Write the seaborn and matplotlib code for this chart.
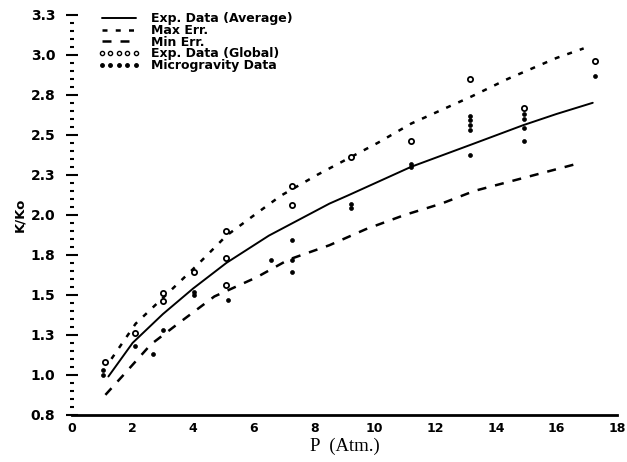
import matplotlib
matplotlib.use('Agg')
import matplotlib.pyplot as plt
import pandas as pd
import seaborn as sns
from matplotlib.lines import Line2D
from matplotlib.ticker import MultipleLocator

# Curves (P in atm, K/Ko)
avg_p = [1.2, 2.0, 3.0, 4.0, 5.1, 6.5, 7.5, 8.5, 9.1, 11.2, 13.2, 14.9, 16.0, 17.2]
avg_k = [0.99, 1.20, 1.38, 1.54, 1.70, 1.87, 1.97, 2.07, 2.12, 2.30, 2.44, 2.56, 2.63, 2.70]

max_p = [1.3, 2.1, 3.05, 4.1, 5.1, 6.1, 6.9, 8.1, 9.2, 10.1, 11.2, 13.2, 14.4, 16.0, 16.9]
max_k = [1.10, 1.32, 1.49, 1.68, 1.87, 2.01, 2.12, 2.25, 2.36, 2.45, 2.57, 2.74, 2.85, 2.98, 3.04]

min_p = [1.1, 1.7, 2.6, 3.5, 4.7, 6.1, 7.15, 8.5, 9.7, 11.0, 12.2, 13.3, 14.7, 16.7]
min_k = [0.875, 1.00, 1.19, 1.32, 1.49, 1.61, 1.72, 1.81, 1.91, 2.00, 2.07, 2.15, 2.22, 2.32]

# Experimental points
glob_p = [1.08, 2.07, 3.0, 3.0, 4.03, 5.07, 5.07, 5.07, 7.26, 7.26, 9.22, 11.2, 13.15, 14.94, 17.26]
glob_k = [1.08, 1.26, 1.51, 1.46, 1.64, 1.73, 1.56, 1.90, 2.18, 2.06, 2.36, 2.46, 2.85, 2.67, 2.96]

micro_p = [1.03, 1.03, 2.07, 2.67, 3.0, 4.03, 4.03, 5.16, 6.58, 7.26, 7.26, 7.26, 9.22, 9.22,
           11.2, 11.2, 13.15, 13.15, 13.15, 13.15, 13.15, 14.94, 14.94, 14.94, 14.94, 17.26]
micro_k = [1.00, 1.03, 1.18, 1.13, 1.28, 1.52, 1.50, 1.47, 1.72, 1.84, 1.72, 1.64, 2.07, 2.04,
           2.32, 2.30, 2.62, 2.59, 2.56, 2.53, 2.375, 2.63, 2.60, 2.54, 2.46, 2.87]

y_ticks = [0.75, 1.0, 1.25, 1.5, 1.75, 2.0, 2.25, 2.5, 2.75, 3.0, 3.25]
y_tick_labels = ['0.8', '1.0', '1.3', '1.5', '1.8', '2.0', '2.3', '2.5', '2.8', '3.0', '3.3']
x_ticks = [0, 2, 4, 6, 8, 10, 12, 14, 16, 18]
x_tick_labels = ['0', '2', '4', '6', '8', '10', '12', '14', '16', '18']

sns.set_style('white')
plt.rcParams['font.family'] = ['DejaVu Sans']
plt.rcParams['text.color'] = 'black'
plt.rcParams['xtick.color'] = 'black'
plt.rcParams['ytick.color'] = 'black'
plt.rcParams['axes.labelcolor'] = 'black'

fig = plt.figure(figsize=(6.27, 4.62), dpi=100)
ax = fig.add_axes([0.115, 0.102, 0.869, 0.866])

df_avg = pd.DataFrame({'P': avg_p, 'K': avg_k})
df_max = pd.DataFrame({'P': max_p, 'K': max_k})
df_min = pd.DataFrame({'P': min_p, 'K': min_k})
df_glob = pd.DataFrame({'P': glob_p, 'K': glob_k})
df_micro = pd.DataFrame({'P': micro_p, 'K': micro_k})

sns.lineplot(data=df_avg, x='P', y='K', ax=ax, color='black', lw=1.4,
             sort=False, estimator=None)
sns.lineplot(data=df_max, x='P', y='K', ax=ax, color='black', lw=1.8,
             sort=False, estimator=None)
ax.lines[-1].set_dashes((2.0, 3.3))
sns.lineplot(data=df_min, x='P', y='K', ax=ax, color='black', lw=1.8,
             sort=False, estimator=None)
ax.lines[-1].set_dashes((3.6, 3.6))
sns.scatterplot(data=df_glob, x='P', y='K', ax=ax, marker='o', s=14,
                facecolor='white', edgecolor='black', linewidth=1.3, zorder=3)
sns.scatterplot(data=df_micro, x='P', y='K', ax=ax, marker='o', s=8,
                color='black', edgecolor='black', linewidth=0.5, zorder=3)

ax.set_xlim(0, 18)
ax.set_ylim(0.75, 3.25)
ax.set_xticks(x_ticks)
ax.set_xticklabels(x_tick_labels, fontsize=9, fontweight='bold')
ax.set_yticks(y_ticks)
ax.set_yticklabels(y_tick_labels, fontsize=10, fontweight='bold')
ax.yaxis.set_minor_locator(MultipleLocator(0.05))
ax.tick_params(axis='y', which='major', left=True, direction='inout', length=8, width=1.5, pad=8)
ax.tick_params(axis='y', which='minor', left=True, direction='inout', length=2.5, width=1.5)
ax.tick_params(axis='x', which='both', bottom=False, length=0, pad=5)

for side in ['top', 'right', 'left']:
    ax.spines[side].set_visible(False)
ax.spines['bottom'].set_linewidth(2)
ax.spines['bottom'].set_color('black')

ax.set_xlabel('P  (Atm.)', fontsize=13.5, family='Liberation Serif', labelpad=2)
ax.set_ylabel('K/Ko', fontsize=9.5, fontweight='bold', labelpad=3)

handles = [
    Line2D([], [], color='black', lw=1.4),
    Line2D([], [], color='black', lw=1.8, dashes=(2.0, 3.3)),
    Line2D([], [], color='black', lw=1.8, dashes=(3.6, 3.6)),
    Line2D([], [], color='black', ls='none', marker='o', ms=3, mfc='white', mew=1),
    Line2D([], [], color='black', ls='none', marker='o', ms=2.5),
]
labels = ['Exp. Data (Average)', 'Max Err.', 'Min Err.', 'Exp. Data (Global)', 'Microgravity Data']
leg = ax.legend(handles, labels, loc='upper left', bbox_to_anchor=(92 / 627, 1 - 6 / 462),
                bbox_transform=fig.transFigure, frameon=False, borderpad=0,
                labelspacing=-0.1, handlelength=3.3, handletextpad=0.9, numpoints=5,
                prop={'weight': 'bold', 'size': 9})

fig.savefig('out.png', dpi=100, facecolor='white')
